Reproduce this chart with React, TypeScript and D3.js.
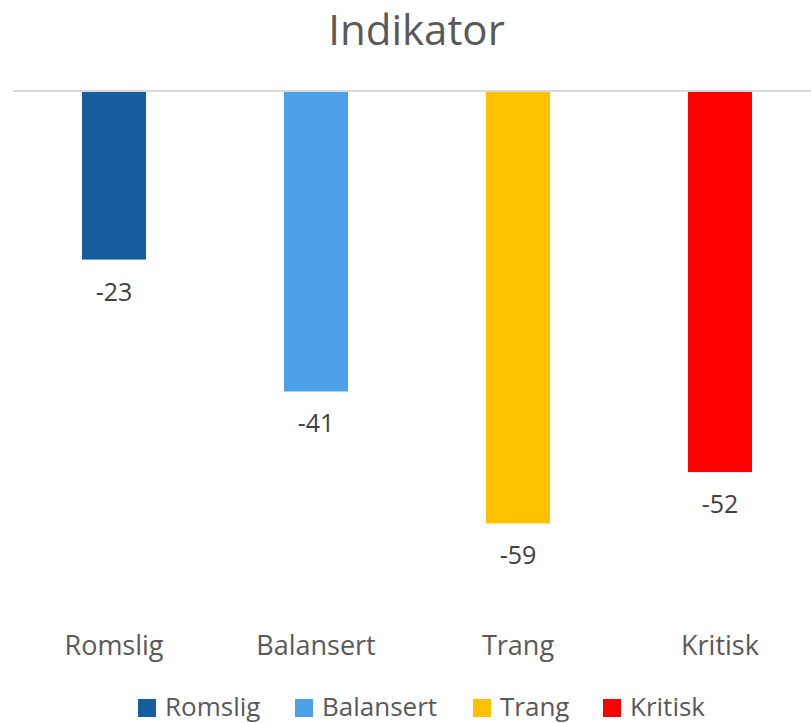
import React from "react";
import * as d3 from "d3";

const categories = ["Romslig", "Balansert", "Trang", "Kritisk"];
const values = [-23, -41, -59, -52];
const colors = ["#165E9E", "#4CA0E8", "#FFC000", "#FF0000"];
const title = "Indikator";

const W = 811;
const H = 723;
const FONT = "'Open Sans', sans-serif";
const TEXT = "#595959";

export default function App() {
  const x = d3.scaleBand<string>().domain(categories).range([13, 821]).paddingInner(0.683).paddingOuter(0.3416);
  const y = d3.scaleLinear().domain([-70, 0]).range([604, 91]);

  // legend item positions (square left edges)
  const legendX = [138, 295, 473, 603];

  return (
    <div style={{ position: "absolute", left: 0, top: 0 }}>
      <svg width={W} height={H} style={{ display: "block", background: "#fff" }}>
        <text x={W / 2 + 11} y={45} textAnchor="middle" fontFamily={FONT} fontSize={42} fill={TEXT}>
          {title}
        </text>

        {categories.map((c, i) => (
          <rect
            key={c}
            x={x(c)}
            y={y(0)}
            width={x.bandwidth()}
            height={y(values[i]) - y(0)}
            fill={colors[i]}
          />
        ))}

        <line x1={13} x2={821} y1={y(0)} y2={y(0)} stroke="#D9D9D9" strokeWidth={2} />

        {categories.map((c, i) => (
          <text
            key={c + "v"}
            x={(x(c) as number) + x.bandwidth() / 2}
            y={y(values[i]) + 41}
            textAnchor="middle"
            fontFamily={FONT}
            fontSize={25}
            fill="#404040"
          >
            {values[i]}
          </text>
        ))}

        {categories.map((c) => (
          <text
            key={c + "c"}
            x={(x(c) as number) + x.bandwidth() / 2}
            y={655}
            textAnchor="middle"
            fontFamily={FONT}
            fontSize={27}
            fill={TEXT}
          >
            {c}
          </text>
        ))}

        {categories.map((c, i) => (
          <g key={c + "l"} transform={`translate(${legendX[i]},699)`}>
            <rect width={18} height={18} fill={colors[i]} />
            <text x={27} y={17} fontFamily={FONT} fontSize={26} fill={TEXT}>
              {c}
            </text>
          </g>
        ))}
      </svg>
    </div>
  );
}
